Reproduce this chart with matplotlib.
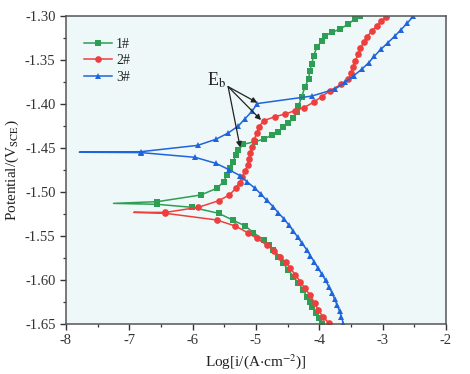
import matplotlib
matplotlib.use("Agg")
import matplotlib.pyplot as plt

plt.rcParams['font.family'] = ['Liberation Serif', 'DejaVu Serif']
plt.rcParams['mathtext.fontset'] = 'stix'

# ---- data: (log i, E) ----
# 1#  cathodic branch (tip -> bottom) and anodic branch (tip -> top)
s1_cat_E = [-1.5129, -1.5140, -1.5174, -1.5242, -1.5318, -1.5386, -1.5462, -1.5545, -1.5600, -1.5660,
            -1.5735, -1.5810, -1.5885, -1.5962, -1.6035, -1.6114, -1.6190, -1.6255, -1.6303,
            -1.6370, -1.6430, -1.6495]
s1_cat_logi = [-7.25, -6.56, -6.01, -5.59, -5.37, -5.17, -5.04, -4.88, -4.80, -4.73,
               -4.65, -4.57, -4.49, -4.41, -4.33, -4.25, -4.20, -4.14, -4.12,
               -4.06, -4.01, -3.96]
s1_an_E = [-1.5129, -1.5110, -1.5034, -1.4958, -1.4883, -1.4807, -1.4730, -1.4656, -1.4580,
           -1.4523, -1.4458, -1.4428, -1.4400, -1.4352, -1.4315, -1.4258, -1.4220, -1.4162,
           -1.4090, -1.4020, -1.3924, -1.3810, -1.3716, -1.3620, -1.3545, -1.3450, -1.3356,
           -1.3280, -1.3224, -1.3186, -1.3148, -1.3090, -1.3034, -1.2996]
s1_an_logi = [-7.25, -6.56, -5.87, -5.62, -5.51, -5.46, -5.41, -5.36, -5.32,
              -5.28, -5.20, -5.02, -4.88, -4.75, -4.65, -4.57, -4.49, -4.41,
              -4.36, -4.33, -4.28, -4.23, -4.17, -4.15, -4.12, -4.09, -4.04,
              -3.96, -3.91, -3.80, -3.67, -3.54, -3.44, -3.36]

# 2#
s2_cat_E = [-1.5231, -1.5242, -1.5318, -1.5386, -1.5462, -1.5526, -1.5602, -1.5665, -1.5735,
            -1.5800, -1.5867, -1.5940, -1.6019, -1.6095, -1.6170, -1.6265, -1.6340, -1.6417,
            -1.6492]
s2_cat_logi = [-6.93, -6.43, -5.62, -5.33, -5.13, -4.99, -4.83, -4.72, -4.62,
               -4.53, -4.46, -4.38, -4.30, -4.23, -4.15, -4.07, -4.02, -3.94,
               -3.85]
s2_an_E = [-1.5231, -1.5232, -1.5174, -1.5099, -1.5034, -1.4958, -1.4894, -1.4828, -1.4760, -1.4690,
           -1.4620, -1.4555, -1.4485, -1.4409, -1.4333, -1.4258, -1.4190, -1.4144, -1.4114,
           -1.4075, -1.4040, -1.3980, -1.3915, -1.3849, -1.3773, -1.3716, -1.3650, -1.3583,
           -1.3510, -1.3435, -1.3360, -1.3300, -1.3242, -1.3167, -1.3110, -1.3053, -1.3008]
s2_an_logi = [-6.93, -6.43, -5.91, -5.59, -5.42, -5.32, -5.26, -5.22, -5.17, -5.13,
              -5.11, -5.09, -5.06, -5.03, -4.99, -4.95, -4.88, -4.70, -4.54,
              -4.38, -4.24, -4.09, -3.96, -3.83, -3.65, -3.54, -3.50, -3.47,
              -3.43, -3.39, -3.35, -3.30, -3.25, -3.17, -3.09, -3.02, -2.94]

# 3#
s3_cat_E = [-1.4548, -1.4552, -1.4606, -1.4675, -1.4745, -1.4815, -1.4885, -1.4955, -1.5025,
            -1.5095, -1.5165, -1.5235, -1.5305, -1.5375, -1.5445, -1.5515, -1.5585, -1.5655,
            -1.5725, -1.5795, -1.5865, -1.5935, -1.6005, -1.6075, -1.6145, -1.6215, -1.6285,
            -1.6355, -1.6425, -1.6495]
s3_cat_logi = [-7.79, -6.82, -5.96, -5.63, -5.43, -5.25, -5.14, -5.02, -4.92,
               -4.83, -4.73, -4.65, -4.56, -4.48, -4.41, -4.34, -4.27, -4.20,
               -4.14, -4.08, -4.02, -3.96, -3.90, -3.85, -3.80, -3.76, -3.72,
               -3.68, -3.65, -3.62]
s3_an_E = [-1.4548, -1.4542, -1.4470, -1.4400, -1.4330, -1.4250, -1.4165, -1.4080, -1.3995, -1.3910,
           -1.3830, -1.3755, -1.3680, -1.3605, -1.3530, -1.3455, -1.3380, -1.3305, -1.3230,
           -1.3155, -1.3080, -1.3005]
s3_an_logi = [-7.79, -6.82, -5.92, -5.63, -5.44, -5.28, -5.17, -5.06, -4.98, -4.12,
              -3.75, -3.60, -3.46, -3.33, -3.22, -3.13, -3.03, -2.92, -2.81,
              -2.71, -2.61, -2.52]

labels = ["1#", "2#", "3#"]
colors = ["#2E9E55", "#EF3E3E", "#1E64DC"]
markers = ["s", "o", "^"]

series = [
    (s1_cat_logi, s1_cat_E, s1_an_logi, s1_an_E),
    (s2_cat_logi, s2_cat_E, s2_an_logi, s2_an_E),
    (s3_cat_logi, s3_cat_E, s3_an_logi, s3_an_E),
]

# Eb arrow annotation (text position, arrow start and target points)
eb_text = (-5.62, -1.3735)
eb_start = (-5.44, -1.3803)
eb_targets = [(-4.98, -1.3985), (-4.92, -1.4182), (-5.25, -1.4493)]

fig = plt.figure(figsize=(4.70, 3.74), dpi=100)
ax = fig.add_axes([66 / 470, 1 - 324 / 374, 380 / 470, 308 / 374])
ax.set_facecolor("#EEF8F8")

for (cl, ce, al, ae), lab, c, m in zip(series, labels, colors, markers):
    x = list(reversed(cl)) + list(al[1:])
    y = list(reversed(ce)) + list(ae[1:])
    n_cat = len(cl)
    idx = [i for i in range(len(x)) if i != n_cat - 1]
    ax.plot(x, y, color=c, lw=1.1, marker=m, ms=4.8, markevery=idx,
            markeredgewidth=0, label=lab)

ax.set_xlim(-8, -2)
ax.set_ylim(-1.65, -1.30)
ax.set_xticks([-8, -7, -6, -5, -4, -3, -2])
ax.set_xticklabels(["-8", "-7", "-6", "-5", "-4", "-3", "-2"])
ax.set_yticks([-1.65, -1.60, -1.55, -1.50, -1.45, -1.40, -1.35, -1.30])
ax.set_yticklabels(["-1.65", "-1.60", "-1.55", "-1.50", "-1.45", "-1.40", "-1.35", "-1.30"])
ax.set_xticks([-7.5, -6.5, -5.5, -4.5, -3.5, -2.5], minor=True)
ax.set_yticks([-1.625, -1.575, -1.525, -1.475, -1.425, -1.375, -1.325], minor=True)
ax.tick_params(axis='both', which='major', direction='out', length=4, width=1.0,
               labelsize=10.5, colors='#333333', top=False, right=False)
ax.tick_params(axis='both', which='minor', direction='out', length=2.5, width=0.9,
               top=False, right=False, colors='#333333')
for sp in ax.spines.values():
    sp.set_color('#555555')
    sp.set_linewidth(1.1)

ax.set_xlabel(r"Log[i/(A$\cdot$cm$^{-2}$)]", fontsize=11, color='#222222', labelpad=3)
ax.set_ylabel(r"Potential/(V$_{\rm SCE}$)", fontsize=11, color='#222222', labelpad=3)

ax.text(eb_text[0], eb_text[1], r"E$_{\rm b}$", fontsize=13, ha='center', va='center',
        color='#222222')
for t in eb_targets:
    ax.annotate("", xy=t, xytext=eb_start,
                arrowprops=dict(arrowstyle="-|>", color="#222222", lw=0.9,
                                mutation_scale=8, shrinkA=0, shrinkB=0))

leg = ax.legend(loc='upper left', frameon=False, fontsize=10, handlelength=2.0,
                bbox_to_anchor=(0.015, 0.97), labelspacing=0.25, handletextpad=0.3)
for txt in leg.get_texts():
    txt.set_color('#222222')

fig.savefig("out.png", dpi=100, facecolor='white')
